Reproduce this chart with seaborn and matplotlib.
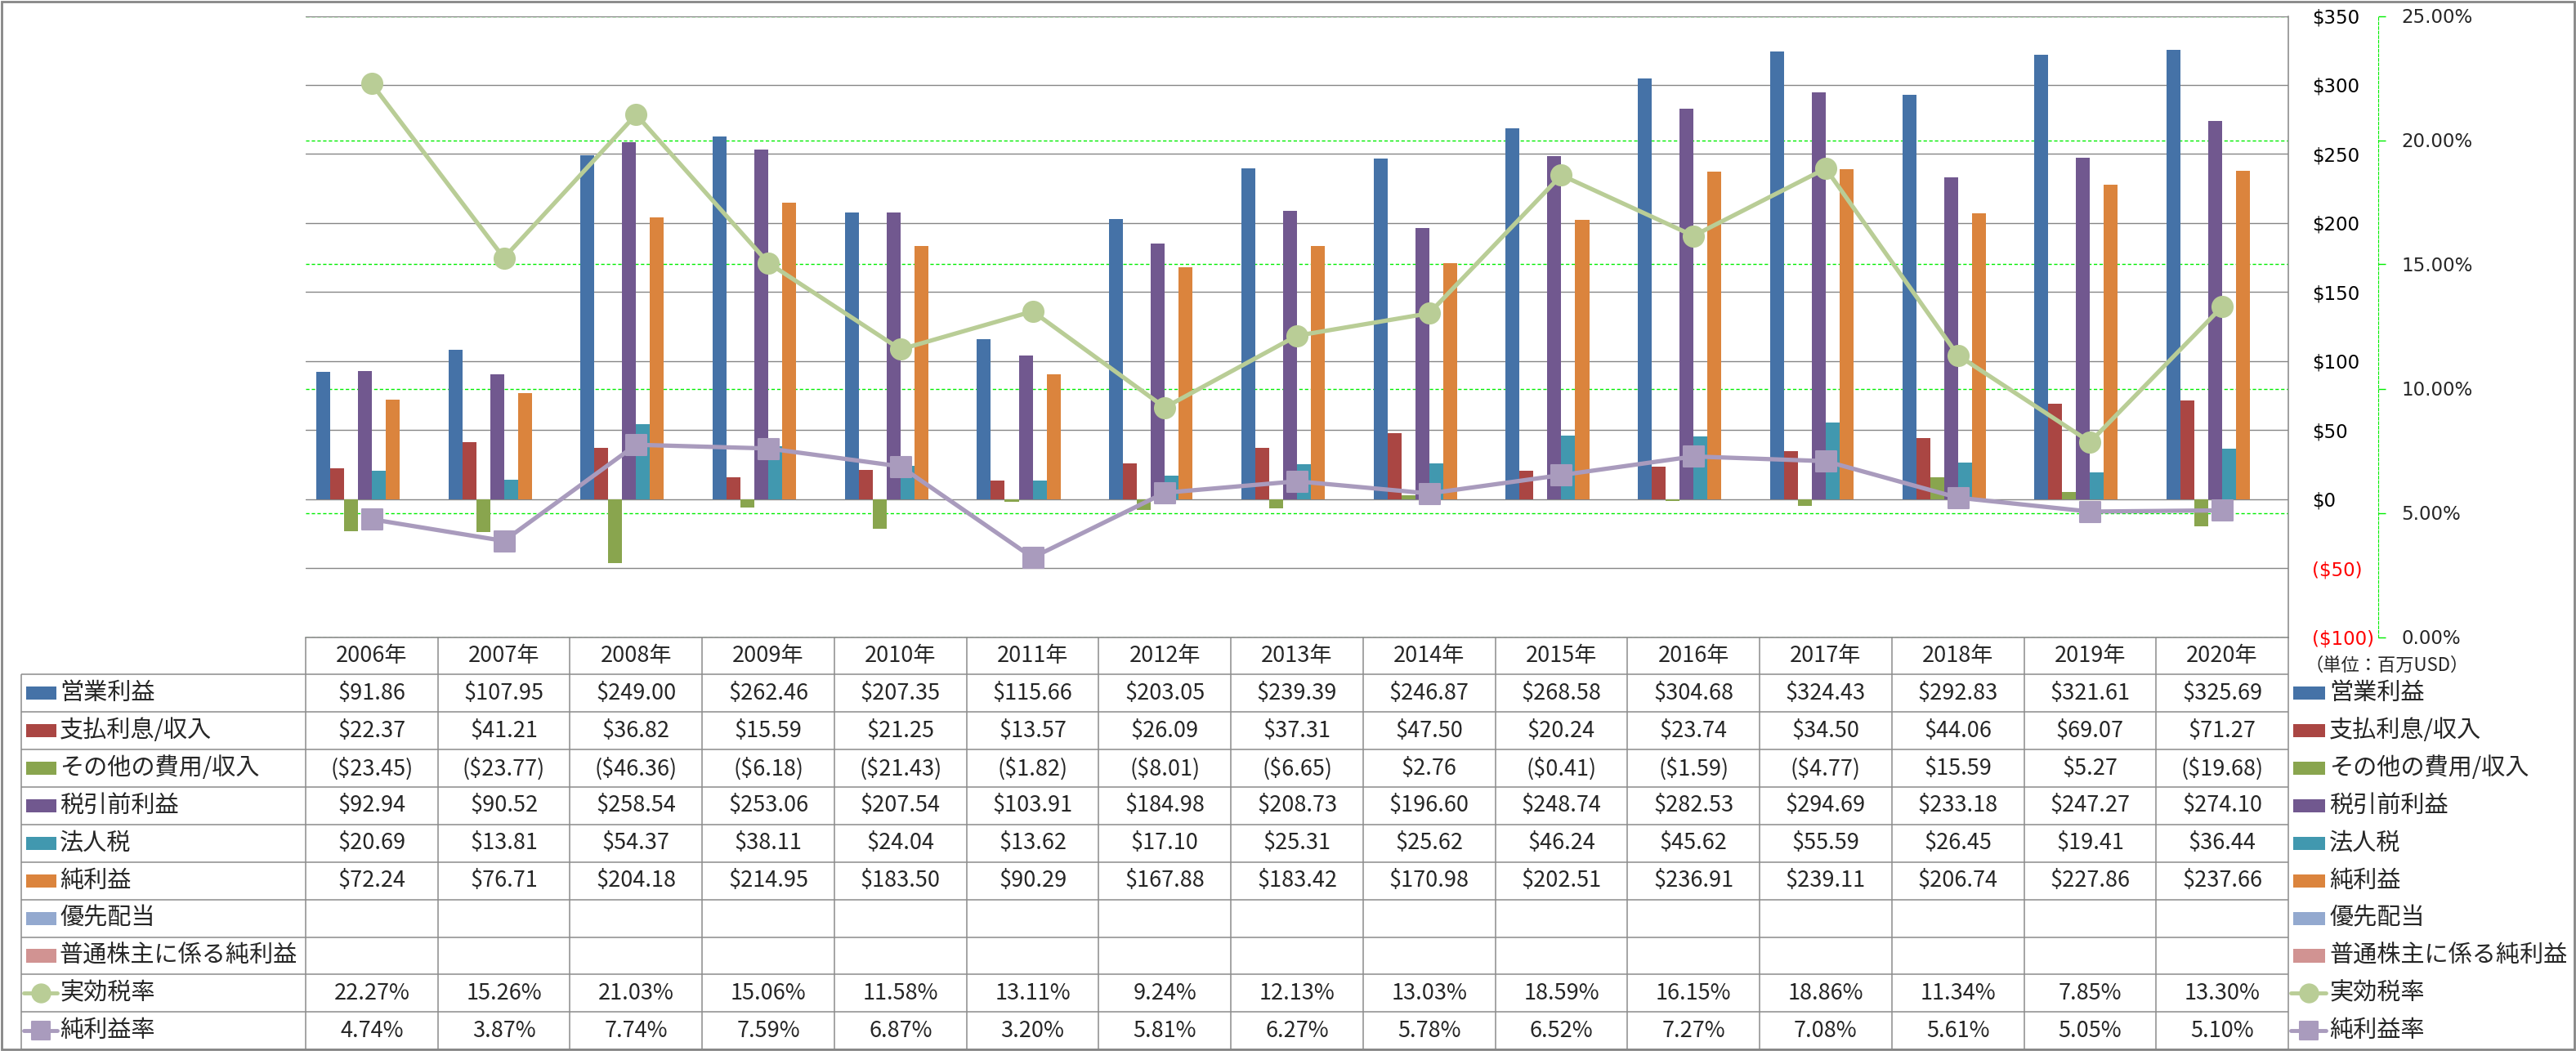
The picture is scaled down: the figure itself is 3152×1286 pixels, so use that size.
import numpy as np
import pandas as pd
import matplotlib
matplotlib.use("Agg")
import matplotlib.pyplot as plt
import seaborn as sns
from matplotlib.patches import Rectangle
from matplotlib.lines import Line2D
from matplotlib.markers import MarkerStyle

# ============================================
# DATA (百万USD / %)
# ============================================
years = ["2006年", "2007年", "2008年", "2009年", "2010年", "2011年", "2012年", "2013年",
         "2014年", "2015年", "2016年", "2017年", "2018年", "2019年", "2020年"]

operating_income = [91.86, 107.95, 249.00, 262.46, 207.35, 115.66, 203.05, 239.39,
                    246.87, 268.58, 304.68, 324.43, 292.83, 321.61, 325.69]
interest = [22.37, 41.21, 36.82, 15.59, 21.25, 13.57, 26.09, 37.31,
            47.50, 20.24, 23.74, 34.50, 44.06, 69.07, 71.27]
other_income = [-23.45, -23.77, -46.36, -6.18, -21.43, -1.82, -8.01, -6.65,
                2.76, -0.41, -1.59, -4.77, 15.59, 5.27, -19.68]
pretax_income = [92.94, 90.52, 258.54, 253.06, 207.54, 103.91, 184.98, 208.73,
                 196.60, 248.74, 282.53, 294.69, 233.18, 247.27, 274.10]
income_tax = [20.69, 13.81, 54.37, 38.11, 24.04, 13.62, 17.10, 25.31,
              25.62, 46.24, 45.62, 55.59, 26.45, 19.41, 36.44]
net_income = [72.24, 76.71, 204.18, 214.95, 183.50, 90.29, 167.88, 183.42,
              170.98, 202.51, 236.91, 239.11, 206.74, 227.86, 237.66]
preferred_div = []   # 優先配当 (no data)
common_net = []      # 普通株主に係る純利益 (no data)

eff_tax_rate = [22.27, 15.26, 21.03, 15.06, 11.58, 13.11, 9.24, 12.13,
                13.03, 18.59, 16.15, 18.86, 11.34, 7.85, 13.30]
net_margin = [4.74, 3.87, 7.74, 7.59, 6.87, 3.20, 5.81, 6.27,
              5.78, 6.52, 7.27, 7.08, 5.61, 5.05, 5.10]

bar_names = ["営業利益", "支払利息/収入", "その他の費用/収入", "税引前利益",
             "法人税", "純利益", "優先配当", "普通株主に係る純利益"]
bar_values = [operating_income, interest, other_income, pretax_income,
              income_tax, net_income, preferred_div, common_net]
bar_colors = ["#4572A7", "#AA4643", "#89A54E", "#71588F",
              "#4198AF", "#DB843D", "#93A9CF", "#D19392"]
line_names = ["実効税率", "純利益率"]
line_values = [eff_tax_rate, net_margin]
line_colors = ["#B9CD96", "#A99BBD"]

money_ticks = [-100, -50, 0, 50, 100, 150, 200, 250, 300, 350]
pct_ticks = [0, 5, 10, 15, 20, 25]

rows = []
for name, vals in zip(bar_names, bar_values):
    for yr, v in zip(years, vals):
        rows.append({"年": yr, "項目": name, "金額": v})
df = pd.DataFrame(rows)

# ============================================
# FIGURE LAYOUT
# ============================================
sns.set_style("white")
plt.rcParams["font.family"] = ["Noto Sans CJK JP", "DejaVu Sans"]

W, H = 3152, 1286
fig = plt.figure(figsize=(W / 100, H / 100), dpi=100)

plot_left, plot_right = 374, 2800
plot_top, plot_bottom = 19.5, 779.5
table_left, table_bottom = 26, 1284.2
pct_axis_x = 2910
colw = (plot_right - plot_left) / len(years)

ax = fig.add_axes([plot_left / W, 1 - plot_bottom / H,
                   (plot_right - plot_left) / W, (plot_bottom - plot_top) / H])
grid_ax = ax.twinx()
# percentage axis: a bit wider so that its axis line sits right of the $ labels
ax2 = fig.add_axes([plot_left / W, 1 - plot_bottom / H,
                    (pct_axis_x - plot_left) / W, (plot_bottom - plot_top) / H])
grid_ax.set_zorder(1)
ax.set_zorder(2)
ax2.set_zorder(3)
for a in (ax, grid_ax, ax2):
    a.patch.set_visible(False)

# bars
sns.barplot(data=df, x="年", y="金額", hue="項目", order=years, hue_order=bar_names,
            palette=dict(zip(bar_names, bar_colors)), width=8 / 9.5, gap=0,
            saturation=1, errorbar=None, linewidth=0, edgecolor="none",
            legend=False, ax=ax)
ax.set_xlim(-0.5, len(years) - 0.5)
ax.set_ylim(-100, 350)
ax.set_xlabel("")
ax.set_ylabel("")
ax.yaxis.tick_right()
ax.set_yticks(money_ticks,
              labels=[f"${t}" if t >= 0 else f"(${-t})" for t in money_ticks],
              fontsize=16.5, fontfamily="DejaVu Sans")
ax.tick_params(axis="y", length=0, pad=21, labelsize=16.5, labelfontfamily="DejaVu Sans")
ax.tick_params(axis="x", bottom=False, labelbottom=False)
ax.yaxis.grid(True, color="#868686", lw=1.0)
ax.xaxis.grid(False)
ax.set_axisbelow(True)
for s in ("left", "top"):
    ax.spines[s].set_visible(False)
for s in ("right", "bottom"):
    ax.spines[s].set_color("#868686")
    ax.spines[s].set_linewidth(1.1)

# secondary gridlines (behind bars, only inside the plot area)
grid_ax.set_ylim(0, 25)
grid_ax.set_yticks(pct_ticks)
grid_ax.yaxis.grid(True, color="#00EE00", lw=1.0, ls=(0, (3, 2)))
grid_ax.tick_params(axis="y", right=False, labelright=False, left=False, labelleft=False)
for s in grid_ax.spines.values():
    s.set_visible(False)

# lines on the percentage axis
x_pos = np.arange(len(years))
markers = ["o", MarkerStyle("s", joinstyle="round")]
for name, vals, col, mk in zip(line_names, line_values, line_colors, markers):
    sns.lineplot(x=x_pos, y=vals, ax=ax2, color=col, lw=3.8, marker=mk,
                 markersize=18, markeredgecolor=col, markeredgewidth=1.5)
ax2.set_xlim(-0.5, -0.5 + (pct_axis_x - plot_left) / colw)
ax2.set_ylim(0, 25)
ax2.set_xlabel("")
ax2.set_ylabel("")
ax2.yaxis.tick_right()
ax2.set_yticks(pct_ticks, labels=[f"{t:.2f}%" for t in pct_ticks],
               fontsize=16.5, fontfamily="DejaVu Sans")
ax2.tick_params(axis="y", direction="out", length=6.5, width=1, color="#00EE00", pad=14,
                labelsize=16.5, labelfontfamily="DejaVu Sans")
ax2.tick_params(axis="x", bottom=False, labelbottom=False)
ax2.spines["right"].set_color("#00EE00")
ax2.spines["right"].set_linestyle((0, (3, 2)))
for s in ("left", "top", "bottom"):
    ax2.spines[s].set_visible(False)

# negative money labels in red
for t, lbl in zip(money_ticks, ax.get_yticklabels()):
    lbl.set_color("red" if t < 0 else "black")

fig.text(2820 / W, 1 - 814 / H, "（単位：百万USD）", fontsize=16, va="center", ha="left")

# ============================================
# DATA TABLE
# ============================================
def px2x(px):
    return -0.5 + (px - plot_left) / colw


tax = fig.add_axes([table_left / W, 1 - table_bottom / H,
                    (plot_right - table_left) / W, (table_bottom - plot_bottom) / H])
n_rows = 11
tax.set_xlim(px2x(table_left), len(years) - 0.5)
tax.set_ylim(0, n_rows)
tax.axis("off")

grey = "#8C8C8C"
tax.hlines(range(0, n_rows), px2x(table_left), len(years) - 0.5, color=grey, lw=1.1, clip_on=False)
tax.vlines(np.arange(len(years) + 1) - 0.5, 0, n_rows, color=grey, lw=1.1, clip_on=False)
tax.vlines(px2x(table_left), 0, n_rows - 1, color=grey, lw=1.1, clip_on=False)

for i, yr in enumerate(years):
    tax.text(i, n_rows - 0.5, yr, ha="center", va="center", fontsize=19.5)


def money(v):
    return f"${v:.2f}" if v >= 0 else f"(${-v:.2f})"


row_names = bar_names + line_names
row_colors = bar_colors + line_colors
row_cells = [[money(v) for v in vals] for vals in bar_values] + \
            [[f"{v:.2f}%" for v in vals] for vals in line_values]

key_sides = [(32, 69, 73), (2806, 2845, 2850)]
for r, (name, col, cells) in enumerate(zip(row_names, row_colors, row_cells)):
    yc = n_rows - 1.5 - r
    for i, txt in enumerate(cells):
        tax.text(i, yc, txt, ha="center", va="center", fontsize=19.5)
    for k0, k1, lx in key_sides:
        if r < len(bar_names):
            tax.add_patch(Rectangle((px2x(k0), yc - 0.175), px2x(k1) - px2x(k0), 0.35,
                                    facecolor=col, edgecolor="none", clip_on=False))
        else:
            mk = "o" if name == "実効税率" else MarkerStyle("s", joinstyle="round")
            tax.add_line(Line2D([px2x(k0 - 3), px2x(k1 + 1)], [yc, yc], color=col, lw=3.5,
                                clip_on=False))
            tax.add_line(Line2D([(px2x(k0 - 3) + px2x(k1 + 1)) / 2], [yc], color=col,
                                marker=mk, markersize=16, markeredgecolor=col,
                                markeredgewidth=1.5, clip_on=False))
        tax.text(px2x(lx), yc, name, ha="left", va="center", fontsize=21, clip_on=False)

# outer frame
fig.patches.append(Rectangle((0.0006, 0.0016), 0.9988, 0.9972, transform=fig.transFigure,
                             fill=False, edgecolor="#868686", lw=2))

plt.savefig("out.png", dpi=100)
